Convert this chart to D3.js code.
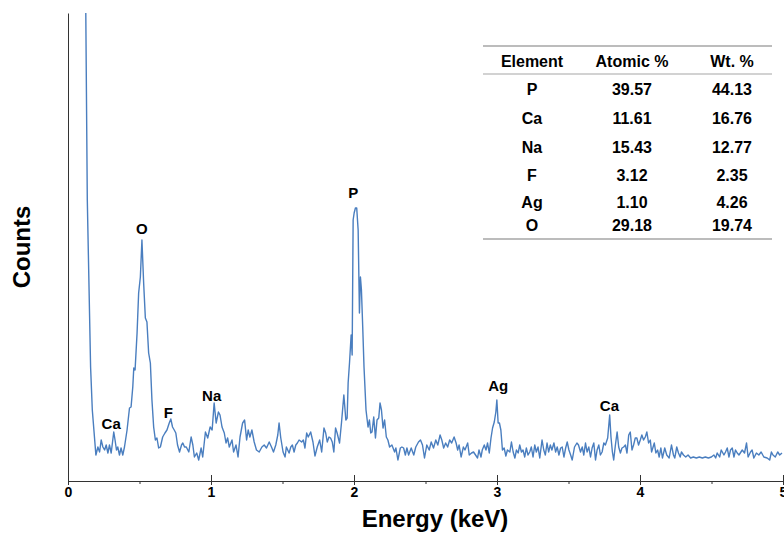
<!DOCTYPE html>
<html><head><meta charset="utf-8">
<script src="https://cdn.jsdelivr.net/npm/d3@7"></script>
<style>
body{margin:0;background:#fff}
svg{display:block}
text{font-family:"Liberation Sans",Arial,sans-serif;font-weight:bold;fill:#000}
</style>
</head><body>
<svg id="chart" width="784" height="533"></svg>
<script>
// EDS spectrum: [energy keV, counts]
const spectrum = [
[0.100,900],[0.135,281],[0.158,114],[0.170,71],[0.195,26],[0.209,34],[0.221,29],[0.232,41],[0.244,34],[0.256,31],
[0.267,36],[0.279,28],[0.290,36],[0.302,28],[0.320,49],[0.329,41],[0.339,31],[0.348,34],[0.360,26],[0.371,33],
[0.383,26],[0.395,34],[0.413,51],[0.430,73],[0.441,74],[0.453,94],[0.460,113],[0.469,111],[0.483,148],[0.494,188],
[0.506,204],[0.517,241],[0.529,198],[0.541,163],[0.552,159],[0.564,128],[0.576,118],[0.587,81],[0.599,54],[0.611,41],
[0.622,43],[0.634,33],[0.646,34],[0.662,44],[0.678,48],[0.692,51],[0.708,58],[0.719,62],[0.731,54],[0.743,51],
[0.754,48],[0.766,36],[0.780,29],[0.794,36],[0.803,38],[0.815,34],[0.827,34],[0.845,29],[0.861,44],[0.873,36],
[0.884,24],[0.900,28],[0.914,21],[0.931,33],[0.942,24],[0.961,49],[0.977,43],[0.994,54],[1.008,51],[1.022,78],
[1.036,58],[1.052,69],[1.063,66],[1.077,54],[1.093,48],[1.105,38],[1.116,43],[1.128,34],[1.147,41],[1.158,29],
[1.175,36],[1.189,24],[1.203,44],[1.221,58],[1.235,61],[1.249,41],[1.260,51],[1.272,44],[1.286,51],[1.302,39],
[1.318,31],[1.337,29],[1.356,34],[1.372,36],[1.388,33],[1.407,39],[1.423,34],[1.437,29],[1.453,36],[1.467,46],
[1.476,58],[1.488,43],[1.504,29],[1.518,24],[1.527,34],[1.546,28],[1.558,34],[1.569,36],[1.581,29],[1.593,36],
[1.604,38],[1.616,41],[1.634,39],[1.646,41],[1.657,33],[1.669,48],[1.680,44],[1.697,49],[1.713,39],[1.727,25],
[1.743,34],[1.760,41],[1.774,29],[1.790,53],[1.802,48],[1.813,39],[1.825,44],[1.836,43],[1.848,39],[1.859,29],
[1.871,53],[1.882,48],[1.899,38],[1.913,59],[1.929,86],[1.943,61],[1.952,63],[1.959,98],[1.969,119],[1.980,146],
[1.987,126],[1.994,261],[2.001,268],[2.010,273],[2.019,273],[2.029,251],[2.038,168],[2.045,204],[2.052,191],[2.061,154],
[2.070,114],[2.084,71],[2.098,54],[2.108,61],[2.117,48],[2.126,49],[2.138,64],[2.150,43],[2.161,61],[2.173,63],
[2.182,78],[2.192,71],[2.203,53],[2.214,61],[2.226,44],[2.237,41],[2.249,34],[2.265,36],[2.284,29],[2.293,33],
[2.307,21],[2.324,33],[2.335,34],[2.347,33],[2.359,26],[2.370,33],[2.382,26],[2.400,33],[2.418,26],[2.432,34],
[2.451,39],[2.465,41],[2.479,36],[2.493,23],[2.509,36],[2.526,31],[2.540,39],[2.556,33],[2.572,41],[2.586,36],
[2.602,46],[2.614,41],[2.627,33],[2.641,38],[2.655,34],[2.669,41],[2.683,38],[2.700,44],[2.714,38],[2.725,31],
[2.735,36],[2.749,24],[2.765,34],[2.776,31],[2.795,38],[2.806,26],[2.822,28],[2.836,29],[2.850,26],[2.864,23],
[2.874,31],[2.888,24],[2.897,31],[2.911,36],[2.923,31],[2.934,38],[2.946,28],[2.958,43],[2.969,53],[2.981,59],
[2.992,69],[2.999,81],[3.008,58],[3.017,58],[3.027,51],[3.038,31],[3.050,33],[3.062,25],[3.073,31],[3.090,29],
[3.101,39],[3.113,29],[3.125,23],[3.136,31],[3.148,28],[3.159,36],[3.171,29],[3.182,31],[3.194,24],[3.205,33],
[3.217,26],[3.229,29],[3.240,34],[3.252,24],[3.264,36],[3.275,29],[3.287,34],[3.299,23],[3.315,41],[3.327,31],
[3.338,26],[3.350,38],[3.361,29],[3.373,36],[3.384,31],[3.398,38],[3.410,29],[3.421,34],[3.433,26],[3.445,33],
[3.456,34],[3.468,24],[3.480,33],[3.491,39],[3.503,31],[3.515,26],[3.526,21],[3.542,34],[3.559,38],[3.570,36],
[3.584,29],[3.596,34],[3.607,26],[3.619,38],[3.630,29],[3.642,34],[3.654,24],[3.665,33],[3.677,38],[3.689,21],
[3.700,31],[3.712,36],[3.723,26],[3.735,29],[3.747,38],[3.758,36],[3.774,43],[3.788,66],[3.797,44],[3.807,29],
[3.816,21],[3.828,36],[3.840,49],[3.851,34],[3.863,28],[3.874,33],[3.886,34],[3.898,36],[3.909,28],[3.921,46],
[3.932,49],[3.944,31],[3.955,36],[3.967,43],[3.978,43],[3.990,36],[4.002,41],[4.013,46],[4.025,41],[4.037,44],
[4.048,49],[4.060,38],[4.072,41],[4.081,29],[4.100,38],[4.111,28],[4.123,31],[4.134,24],[4.146,33],[4.157,23],
[4.173,33],[4.187,26],[4.204,23],[4.220,36],[4.234,26],[4.243,23],[4.257,34],[4.269,28],[4.281,24],[4.290,29],
[4.304,26],[4.320,24],[4.336,26],[4.354,23],[4.373,24],[4.394,23],[4.415,24],[4.436,23],[4.457,24],[4.478,23],
[4.499,24],[4.517,26],[4.529,23],[4.540,28],[4.557,24],[4.568,31],[4.587,26],[4.598,29],[4.610,33],[4.622,24],
[4.633,31],[4.645,33],[4.657,24],[4.668,31],[4.680,28],[4.692,26],[4.715,31],[4.731,28],[4.745,38],[4.756,24],
[4.773,29],[4.784,31],[4.796,23],[4.814,28],[4.831,26],[4.847,29],[4.866,24],[4.889,23],[4.907,21],[4.919,29],
[4.930,26],[4.946,24],[4.963,29],[4.977,26],[4.993,28]
];
const peakNames = ["Ca","O","F","Na","P","Ag","Ca"];
const peakEnergy = [0.302,0.517,0.701,1.005,1.994,3.008,3.786];
const peakLabelCounts = [52,247,63,80,283,90,70];

const tableHeader = ["Element","Atomic %","Wt. %"];
const elements = ["P","Ca","Na","F","Ag","O"];
const atomicPct = ["39.57","11.61","15.43","3.12","1.10","29.18"];
const wtPct = ["44.13","16.76","12.77","2.35","4.26","19.74"];

const xTicks = [0,1,2,3,4,5];
const xMinorTicks = [0.5,1.5,2.5,3.5,4.5];
const xTitle = "Energy (keV)";
const yTitle = "Counts";

const svg = d3.select("#chart");
const mLeft = 68, mRight = 783, mTop = 13, mBottom = 481;
const x = d3.scaleLinear().domain([0,5]).range([mLeft,mRight]);
const y = d3.scaleLinear().domain([0,468]).range([mBottom,mTop]);

svg.append("defs").append("clipPath").attr("id","plotclip")
  .append("rect").attr("x",mLeft).attr("y",mTop).attr("width",784-mLeft).attr("height",mBottom-mTop);

// spectrum
const line = d3.line().x(d=>x(d[0])).y(d=>y(d[1]));
svg.append("path").datum(spectrum)
  .attr("clip-path","url(#plotclip)")
  .attr("d",line).attr("fill","none")
  .attr("stroke","#4a7ebf").attr("stroke-width",1.4).attr("stroke-linejoin","round");

// axes
const gx = svg.append("g").attr("transform",`translate(0,${mBottom})`)
  .call(d3.axisBottom(x).tickValues(xTicks).tickFormat(d3.format("d")).tickSizeOuter(0).tickSize(4));
gx.select(".domain").attr("stroke","#333").attr("d",`M${mLeft},0.5H784`);
gx.selectAll(".tick line").attr("stroke","#333").attr("y1",-6).attr("y2",4);
gx.selectAll(".tick text").attr("y",6).attr("font-size",14).attr("font-family",'"Liberation Sans",Arial,sans-serif').attr("font-weight","bold").attr("fill","#000");

const gxm = svg.append("g").attr("transform",`translate(0,${mBottom})`)
  .call(d3.axisBottom(x).tickValues(xMinorTicks).tickFormat("").tickSize(3).tickSizeOuter(0));
gxm.select(".domain").remove();
gxm.selectAll(".tick line").attr("stroke","#333");

const gy = svg.append("g").attr("transform",`translate(${mLeft},0)`)
  .call(d3.axisLeft(y).tickValues([]).tickSizeOuter(0));
gy.select(".domain").attr("stroke","#333");

// axis titles
svg.append("text").attr("x",435).attr("y",527).attr("text-anchor","middle")
  .attr("font-size",24).text(xTitle);
svg.append("text").attr("transform","translate(30,247) rotate(-90)").attr("text-anchor","middle")
  .attr("font-size",24).text(yTitle);

// peak labels
svg.append("g").selectAll("text").data(peakNames).join("text")
  .attr("x",(d,i)=>x(peakEnergy[i])).attr("y",(d,i)=>y(peakLabelCounts[i]))
  .attr("text-anchor","middle").attr("font-size",15).text(d=>d);

// table
const colX = [532,632,732];
const tbl = svg.append("g");
tbl.append("line").attr("x1",483).attr("x2",772).attr("y1",46).attr("y2",46).attr("stroke","#a6a6a6").attr("stroke-width",1.5);
tbl.append("line").attr("x1",483).attr("x2",772).attr("y1",74).attr("y2",74).attr("stroke","#a6a6a6").attr("stroke-width",1.2);
tbl.append("line").attr("x1",483).attr("x2",772).attr("y1",239).attr("y2",239).attr("stroke","#a6a6a6").attr("stroke-width",1.5);
tbl.selectAll("text.h").data(tableHeader).join("text").attr("class","h")
  .attr("x",(d,i)=>colX[i]).attr("y",67).attr("text-anchor","middle").attr("font-size",16).text(d=>d);
const rowY = [95,124,153,181,208,231];
const rows = elements.map((e,i)=>[e,atomicPct[i],wtPct[i]]);
rows.forEach((r,i)=>{
  tbl.append("g").selectAll("text").data(r).join("text")
    .attr("x",(d,j)=>colX[j]).attr("y",rowY[i]).attr("text-anchor","middle").attr("font-size",16).text(d=>d);
});
</script>
</body></html>
